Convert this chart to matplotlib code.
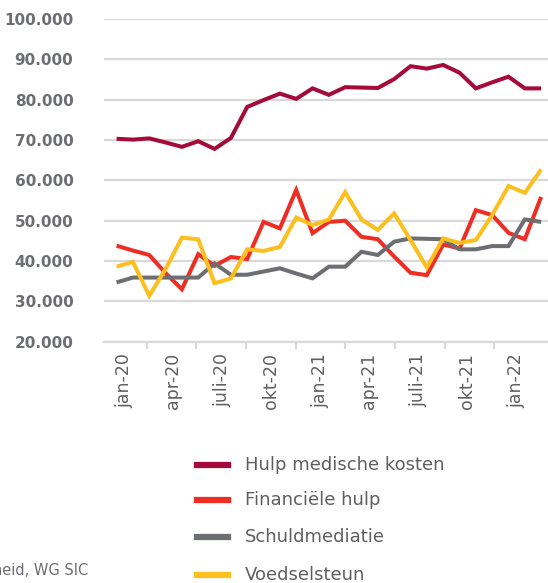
import numpy as np
import matplotlib
matplotlib.use("Agg")
import matplotlib.pyplot as plt
from matplotlib.lines import Line2D

# maanden jan-20 .. mar-22
months = ['jan-20', 'feb-20', 'mrt-20', 'apr-20', 'mei-20', 'jun-20',
          'juli-20', 'aug-20', 'sep-20', 'okt-20', 'nov-20', 'dec-20',
          'jan-21', 'feb-21', 'mrt-21', 'apr-21', 'mei-21', 'jun-21',
          'juli-21', 'aug-21', 'sep-21', 'okt-21', 'nov-21', 'dec-21',
          'jan-22', 'feb-22', 'mrt-22']
shown_labels = ['jan-20', 'apr-20', 'juli-20', 'okt-20', 'jan-21',
                'apr-21', 'juli-21', 'okt-21', 'jan-22']

medische = [70300, 70100, 70400, 69400, 68300, 69700, 67800, 70500, 78200,
            79900, 81500, 80200, 82800, 81200, 83100, 83000, 82900, 85100,
            88300, 87700, 88600, 86700, 82800, 84300, 85700, 82800, 82800]
financieel = [43800, 42600, 41500, 37000, 33000, 41700, 38800, 41000, 40500,
              49700, 48100, 57600, 46900, 49700, 50000, 46000, 45400, 41100,
              37100, 36500, 44100, 43100, 52600, 51400, 47000, 45400, 55900]
schuld = [34700, 35900, 35900, 35900, 35900, 35900, 39400, 36600, 36600,
          37400, 38200, 36900, 35700, 38600, 38600, 42300, 41500, 44800,
          45600, 45500, 45400, 42900, 42900, 43700, 43700, 50300, 49700]
voedsel = [38600, 39800, 31400, 38000, 45800, 45400, 34500, 35700, 42900,
           42500, 43500, 50800, 48900, 50300, 57100, 50300, 47700, 51800,
           45200, 38400, 45600, 44500, 45200, 51400, 58600, 56900, 62700]

series = [
    ('Hulp medische kosten', medische, '#a50b3a'),
    ('Financiële hulp', financieel, '#ee2e24'),
    ('Schuldmediatie', schuld, '#6d6e71'),
    ('Voedselsteun', voedsel, '#fdbf1d'),
]

W, H = 548, 583
fig = plt.figure(figsize=(W / 100, H / 100), dpi=100)
ax = fig.add_axes([104 / W, 1 - 341.7 / H, 1 - 104 / W, (341.7 - 19) / H])

x = np.arange(len(months))
for name, vals, col in series:
    ax.plot(x, vals, color=col, lw=2.9, solid_joinstyle='miter',
            solid_capstyle='butt', zorder=3)

ax.set_ylim(20000, 100000)
ax.set_xlim(-0.77, 26.42)
ax.set_yticks(np.arange(20000, 100001, 10000))
ax.set_yticklabels(['{:,}'.format(v).replace(',', '.') for v in
                    range(20000, 100001, 10000)],
                   fontsize=11, fontweight='bold', color='#6d6e71')
ax.grid(axis='y', color='#d9d9d9', lw=1.6, zorder=0)
ax.tick_params(axis='y', length=0, pad=22)

lab_idx = [months.index(m) for m in shown_labels]
ax.set_xticks([i + 0.45 for i in lab_idx])
ax.set_xticklabels(shown_labels, rotation=90, fontsize=12.5, color='#5f5f5f')
ax.tick_params(axis='x', which='major', length=0, pad=8)
ax.set_xticks(np.arange(8) * 3.04 + 1.85, minor=True)
ax.tick_params(axis='x', which='minor', length=5, width=1.5, color='#d9d9d9')

for s in ['top', 'right', 'left']:
    ax.spines[s].set_visible(False)
ax.spines['bottom'].set_color('#d9d9d9')
ax.spines['bottom'].set_linewidth(1.6)

# legenda
leg_y = [465, 500.3, 537.3, 575]
for (name, vals, col), yy in zip(series, leg_y):
    fy = 1 - yy / H
    fig.add_artist(Line2D([197 / W, 228 / W], [fy, fy], color=col, lw=4.5,
                          transform=fig.transFigure))
    fig.text(245 / W, fy, name, fontsize=13, color='#5f5f5f', va='center',
             ha='left')

fig.text(88 / W, 1 - 571 / H, 'Bron: FOD Volksgezondheid, WG SIC',
         fontsize=10.5, color='#6d6e71', ha='right', va='center')

fig.savefig('out.png', dpi=100)
